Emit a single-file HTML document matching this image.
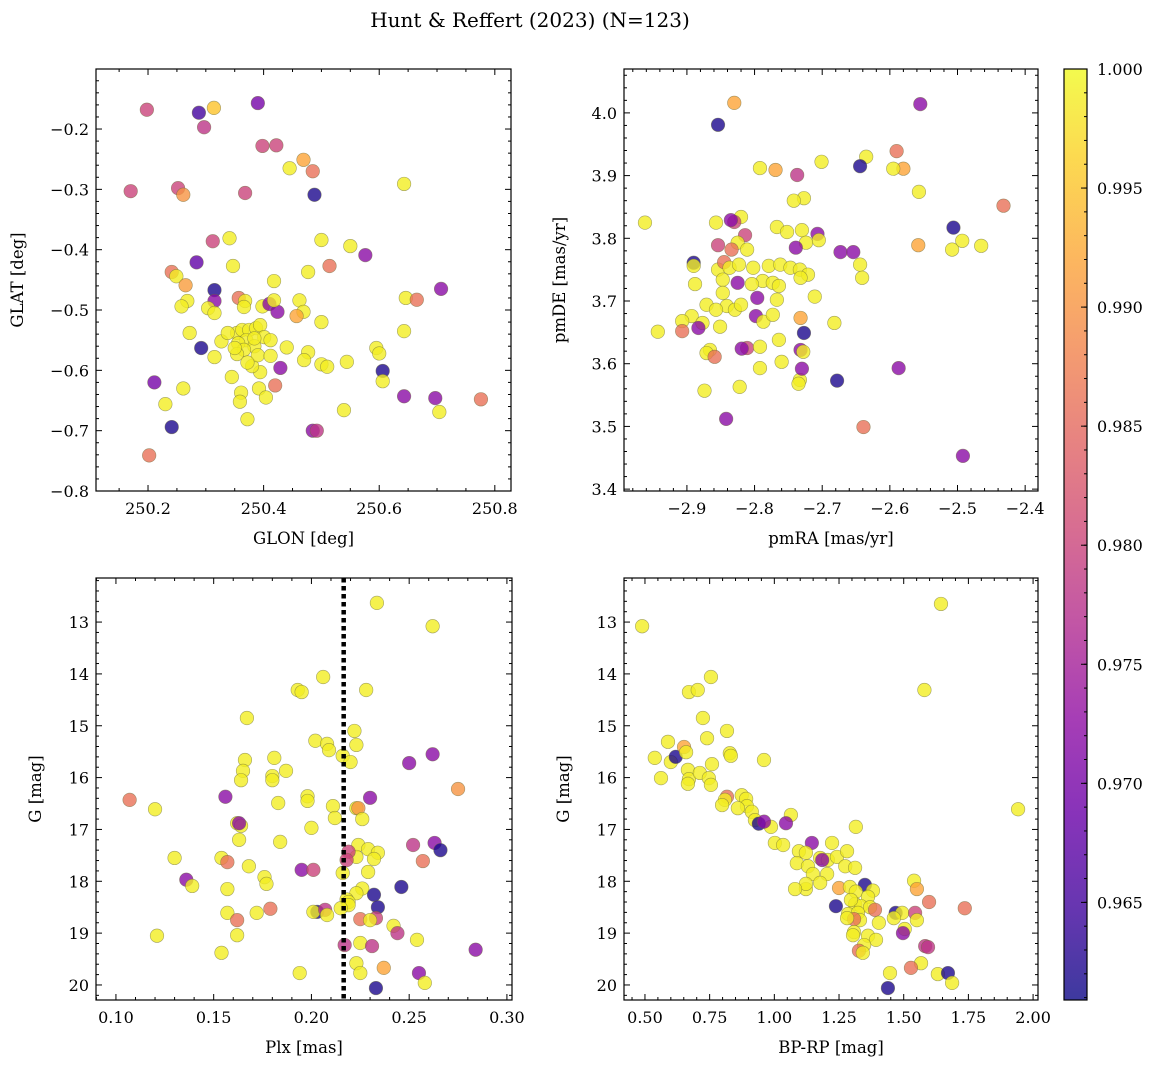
<!DOCTYPE html>
<html><head><meta charset="utf-8">
<style>
html,body{margin:0;padding:0;background:#fff;}
svg{display:block;font-family:"DejaVu Serif","Liberation Serif",serif;}
</style></head>
<body>
<svg id="fig" width="1161" height="1068" viewBox="0 0 1161 1068" xmlns="http://www.w3.org/2000/svg">
<defs>
<linearGradient id="plasma" x1="0" y1="1" x2="0" y2="0">
<stop offset="0" stop-color="#0d0887"/><stop offset="0.1" stop-color="#41049d"/><stop offset="0.2" stop-color="#6a00a8"/><stop offset="0.3" stop-color="#8f0da4"/><stop offset="0.4" stop-color="#b12a90"/><stop offset="0.5" stop-color="#cc4778"/><stop offset="0.6" stop-color="#e16462"/><stop offset="0.7" stop-color="#f2844b"/><stop offset="0.8" stop-color="#fca636"/><stop offset="0.9" stop-color="#fcce25"/><stop offset="1" stop-color="#f0f921"/>
</linearGradient>
</defs>
<text x="530" y="27" text-anchor="middle" font-size="20">Hunt &amp; Reffert (2023) (N=123)</text>
</svg>
<script>
// ---- Panel 1: GLON / GLAT ----
const p1_glon=[250.198,250.314,250.288,250.39,250.297,250.398,250.422,250.469,250.445,250.485,250.17,250.252,250.261,250.368,250.488,250.643,250.5,250.312,250.341,250.55,250.576,250.284,250.347,250.477,250.514,250.418,250.241,250.249,250.265,250.268,250.315,250.315,250.258,250.357,250.368,250.366,250.304,250.315,250.398,250.41,250.424,250.418,250.462,250.469,250.457,250.5,250.646,250.665,250.707,250.272,250.327,250.292,250.643,250.595,250.6,250.606,250.606,250.44,250.477,250.47,250.5,250.51,250.544,250.315,250.345,250.429,250.394,250.38,250.42,250.392,250.404,250.361,250.359,250.261,250.211,250.23,250.643,250.697,250.704,250.776,250.539,250.372,250.241,250.485,250.492,250.202,250.354,250.363,250.375,250.387,250.394,250.401,250.412,250.37,250.356,250.384,250.366,250.354,250.39,250.412,250.372,250.338,250.35,250.384];
const p1_glat=[-0.168,-0.165,-0.173,-0.157,-0.197,-0.228,-0.227,-0.251,-0.265,-0.27,-0.303,-0.298,-0.309,-0.306,-0.309,-0.291,-0.384,-0.386,-0.381,-0.394,-0.409,-0.421,-0.427,-0.437,-0.427,-0.452,-0.437,-0.444,-0.459,-0.485,-0.467,-0.485,-0.494,-0.48,-0.485,-0.495,-0.497,-0.505,-0.494,-0.49,-0.503,-0.484,-0.484,-0.503,-0.51,-0.52,-0.48,-0.483,-0.465,-0.538,-0.552,-0.563,-0.535,-0.563,-0.572,-0.601,-0.618,-0.562,-0.57,-0.583,-0.59,-0.594,-0.586,-0.578,-0.611,-0.596,-0.603,-0.593,-0.625,-0.63,-0.645,-0.637,-0.652,-0.63,-0.62,-0.656,-0.643,-0.646,-0.669,-0.648,-0.666,-0.681,-0.694,-0.7,-0.7,-0.741,-0.538,-0.533,-0.533,-0.53,-0.525,-0.545,-0.55,-0.55,-0.555,-0.56,-0.566,-0.573,-0.575,-0.576,-0.587,-0.538,-0.563,-0.547];
const p1_prob=[0.98,0.995,0.965,0.97,0.978,0.98,0.98,0.992,0.999,0.986,0.98,0.98,0.99,0.98,0.962,0.999,0.999,0.98,0.999,0.999,0.972,0.968,0.999,0.999,0.986,0.999,0.986,0.999,0.991,0.999,0.962,0.972,0.999,0.986,0.999,0.999,0.999,0.999,0.999,0.972,0.972,0.999,0.999,0.999,0.992,0.999,0.999,0.986,0.972,0.999,0.999,0.962,0.999,0.999,0.999,0.962,0.999,0.999,0.999,0.999,0.999,0.999,0.999,0.999,0.999,0.972,0.999,0.999,0.986,0.999,0.999,0.999,0.999,0.999,0.97,0.999,0.972,0.972,0.999,0.986,0.999,0.999,0.962,0.972,0.978,0.986,0.999,0.999,0.999,0.999,0.999,0.999,0.999,0.999,0.999,0.999,0.999,0.999,0.999,0.999,0.999,0.999,0.999,0.999];
// ---- Panel 2: pmRA / pmDE ----
const p2_pmra=[-2.830,-2.854,-2.555,-2.590,-2.580,-2.595,-2.635,-2.644,-2.701,-2.792,-2.769,-2.737,-2.557,-2.432,-2.727,-2.742,-2.465,-2.493,-2.506,-2.508,-2.558,-2.767,-2.82,-2.83,-2.835,-2.857,-2.752,-2.707,-2.705,-2.730,-2.962,-2.814,-2.825,-2.854,-2.834,-2.811,-2.724,-2.739,-2.673,-2.654,-2.644,-2.641,-2.890,-2.890,-2.854,-2.845,-2.837,-2.823,-2.802,-2.779,-2.762,-2.747,-2.733,-2.721,-2.732,-2.788,-2.773,-2.764,-2.804,-2.825,-2.847,-2.888,-2.847,-2.841,-2.871,-2.857,-2.829,-2.82,-2.796,-2.767,-2.711,-2.798,-2.787,-2.773,-2.732,-2.682,-2.893,-2.907,-2.877,-2.851,-2.883,-2.943,-2.907,-2.727,-2.764,-2.811,-2.792,-2.819,-2.866,-2.871,-2.859,-2.732,-2.728,-2.760,-2.792,-2.822,-2.733,-2.735,-2.730,-2.587,-2.678,-2.874,-2.842,-2.639,-2.492];
const p2_pmde=[4.016,3.981,4.014,3.939,3.911,3.911,3.93,3.915,3.922,3.912,3.909,3.901,3.874,3.852,3.864,3.86,3.788,3.796,3.817,3.782,3.789,3.818,3.834,3.826,3.829,3.825,3.81,3.807,3.797,3.813,3.825,3.805,3.793,3.789,3.782,3.782,3.793,3.785,3.778,3.778,3.758,3.737,3.761,3.756,3.75,3.762,3.753,3.758,3.753,3.756,3.758,3.753,3.75,3.742,3.737,3.732,3.729,3.724,3.727,3.729,3.734,3.727,3.713,3.692,3.694,3.686,3.686,3.694,3.705,3.702,3.707,3.676,3.667,3.678,3.673,3.665,3.676,3.668,3.665,3.659,3.657,3.651,3.652,3.649,3.638,3.625,3.627,3.624,3.622,3.617,3.611,3.622,3.619,3.603,3.593,3.563,3.574,3.568,3.592,3.593,3.573,3.557,3.512,3.499,3.453];
const p2_prob=[0.992,0.962,0.972,0.986,0.992,0.999,0.999,0.962,0.999,0.999,0.992,0.978,0.999,0.986,0.999,0.999,0.999,0.999,0.962,0.999,0.992,0.999,0.999,0.98,0.972,0.999,0.999,0.972,0.999,0.999,0.999,0.98,0.999,0.98,0.986,0.999,0.999,0.972,0.972,0.972,0.999,0.999,0.962,0.999,0.999,0.986,0.999,0.999,0.999,0.999,0.999,0.999,0.999,0.999,0.999,0.999,0.999,0.999,0.999,0.972,0.999,0.999,0.999,0.999,0.999,0.999,0.999,0.999,0.972,0.999,0.999,0.972,0.999,0.999,0.992,0.999,0.999,0.999,0.999,0.999,0.972,0.999,0.986,0.962,0.999,0.98,0.999,0.972,0.999,0.999,0.986,0.972,0.999,0.999,0.999,0.999,0.999,0.999,0.972,0.972,0.962,0.999,0.972,0.986,0.972];
// ---- Panel 3: Plx / G ----
const p3_plx=[0.2335,0.262,0.193,0.195,0.206,0.228,0.167,0.222,0.223,0.202,0.208,0.209,0.262,0.25,0.216,0.22,0.166,0.181,0.187,0.165,0.164,0.18,0.18,0.156,0.107,0.12,0.198,0.198,0.183,0.23,0.275,0.211,0.223,0.224,0.212,0.226,0.2,0.162,0.164,0.163,0.184,0.163,0.224,0.229,0.234,0.223,0.232,0.252,0.257,0.263,0.266,0.219,0.229,0.195,0.201,0.218,0.216,0.13,0.154,0.157,0.168,0.136,0.139,0.176,0.177,0.157,0.226,0.223,0.232,0.246,0.218,0.219,0.219,0.234,0.215,0.203,0.201,0.207,0.157,0.172,0.179,0.208,0.225,0.233,0.23,0.162,0.242,0.244,0.121,0.162,0.254,0.225,0.231,0.217,0.284,0.154,0.223,0.237,0.225,0.194,0.255,0.258,0.233];
const p3_g=[12.63,13.08,14.31,14.35,14.06,14.31,14.85,15.1,15.37,15.29,15.35,15.47,15.55,15.72,15.58,15.7,15.66,15.62,15.87,15.87,16.05,15.97,16.05,16.37,16.43,16.61,16.36,16.45,16.49,16.39,16.22,16.55,16.59,16.59,16.78,16.8,16.97,16.88,16.93,16.88,17.24,17.2,17.3,17.38,17.45,17.53,17.57,17.3,17.61,17.26,17.4,17.43,17.82,17.78,17.78,17.59,17.84,17.55,17.55,17.63,17.71,17.97,18.09,17.92,18.05,18.15,18.14,18.23,18.26,18.11,18.35,18.4,18.46,18.5,18.52,18.59,18.59,18.55,18.61,18.61,18.53,18.65,18.73,18.71,18.75,18.75,18.86,19.0,19.05,19.04,19.13,19.19,19.25,19.23,19.32,19.38,19.58,19.67,19.77,19.77,19.77,19.96,20.06];
const p3_prob=[0.999,0.999,0.999,0.999,0.999,0.999,0.999,0.999,0.999,0.999,0.999,0.999,0.972,0.972,0.999,0.999,0.999,0.999,0.999,0.999,0.999,0.999,0.999,0.972,0.986,0.999,0.999,0.999,0.999,0.972,0.99,0.999,0.999,0.99,0.999,0.999,0.999,0.999,0.999,0.972,0.999,0.999,0.999,0.999,0.999,0.999,0.999,0.978,0.986,0.972,0.962,0.98,0.999,0.972,0.98,0.98,0.999,0.999,0.999,0.986,0.999,0.972,0.999,0.999,0.999,0.999,0.999,0.999,0.962,0.962,0.999,0.999,0.999,0.962,0.999,0.962,0.999,0.978,0.999,0.999,0.986,0.999,0.986,0.98,0.999,0.986,0.999,0.978,0.999,0.999,0.999,0.999,0.978,0.978,0.972,0.999,0.999,0.992,0.999,0.999,0.972,0.999,0.962];
// ---- Panel 4: BP-RP / G ----
const p4_bprp=[0.489,1.644,1.580,1.942,0.755,0.670,0.704,0.724,0.740,0.817,0.589,0.538,0.600,0.619,0.651,0.659,0.828,0.832,0.666,0.670,0.712,0.759,0.747,0.960,0.562,0.666,0.755,0.817,0.809,0.798,0.874,0.891,0.894,0.859,0.913,0.925,0.987,1.064,1.045,1.315,0.940,0.960,1.002,1.034,1.095,1.145,1.223,1.122,1.177,1.207,1.242,1.087,1.130,1.185,1.274,1.312,1.281,1.149,1.204,1.177,1.122,1.122,1.080,1.250,1.350,1.381,1.292,1.315,1.362,1.312,1.335,1.370,1.389,1.540,1.551,1.598,1.736,1.238,1.296,1.285,1.323,1.331,1.308,1.281,1.308,1.404,1.469,1.494,1.544,1.551,1.462,1.504,1.497,1.304,1.362,1.393,1.347,1.583,1.594,1.327,1.342,1.567,1.528,1.447,1.632,1.671,1.687,1.439];
const p4_g=[13.08,12.65,14.31,16.61,14.06,14.35,14.31,14.85,15.24,15.1,15.31,15.62,15.7,15.6,15.41,15.51,15.53,15.58,15.85,16.03,15.91,15.74,16.01,15.66,16.01,16.12,16.14,16.37,16.43,16.53,16.34,16.41,16.55,16.59,16.66,16.82,16.95,16.72,16.88,16.95,16.89,16.85,17.26,17.3,17.42,17.26,17.26,17.45,17.55,17.59,17.53,17.65,17.71,17.59,17.71,17.74,17.42,17.86,17.86,18.03,18.15,18.05,18.15,18.13,18.07,18.18,18.11,18.2,18.3,18.44,18.48,18.5,18.55,17.99,18.15,18.4,18.52,18.48,18.36,18.63,18.61,18.75,18.73,18.71,18.98,18.8,18.61,18.61,18.61,18.75,18.71,18.92,19.0,19.04,19.05,19.13,19.23,19.25,19.27,19.34,19.38,19.58,19.67,19.77,19.79,19.77,19.96,20.06];
const p4_prob=[0.999,0.999,0.999,0.999,0.999,0.999,0.999,0.999,0.999,0.999,0.999,0.999,0.999,0.962,0.992,0.999,0.999,0.999,0.999,0.999,0.999,0.999,0.999,0.999,0.999,0.999,0.999,0.986,0.999,0.999,0.999,0.999,0.999,0.999,0.999,0.999,0.999,0.999,0.972,0.999,0.962,0.972,0.999,0.999,0.999,0.972,0.999,0.999,0.999,0.999,0.999,0.999,0.999,0.972,0.999,0.999,0.999,0.999,0.999,0.999,0.999,0.999,0.999,0.992,0.962,0.999,0.999,0.999,0.999,0.999,0.999,0.999,0.986,0.999,0.992,0.986,0.986,0.962,0.999,0.999,0.999,0.999,0.986,0.999,0.999,0.999,0.962,0.999,0.98,0.999,0.999,0.999,0.972,0.999,0.999,0.999,0.999,0.978,0.978,0.986,0.999,0.999,0.986,0.999,0.999,0.962,0.999,0.962];
const cbarTicks=[0.965,0.970,0.975,0.980,0.985,0.990,0.995,1.000];
const plxLimit=0.2165;
const vmin=0.9609, vmax=1.0;

const NS="http://www.w3.org/2000/svg";
const svg=document.getElementById('fig');
function mk(tag,attrs,parent){const e=document.createElementNS(NS,tag);for(const k in attrs)e.setAttribute(k,attrs[k]);(parent||svg).appendChild(e);return e;}
const stops=[[13,8,135],[65,4,157],[106,0,168],[143,13,164],[177,42,144],[204,71,120],[225,100,98],[242,132,75],[252,166,54],[252,206,37],[240,249,33]];
function cmap(v){let t=(v-vmin)/(vmax-vmin);t=Math.max(0,Math.min(1,t))*10;const i=Math.min(9,Math.floor(t)),f=t-i;const a=stops[i],b=stops[i+1];return 'rgb('+[0,1,2].map(k=>Math.round(a[k]+(b[k]-a[k])*f)).join(',')+')';}
function fmt(v,d){const s=Math.abs(v).toFixed(d);return (v<0&&parseFloat(s)!==0?'\u2212':'')+s;}

function panel(o){
  const g=mk('g',{});
  
  
  const sx=v=>o.L+(v-o.x0)/(o.x1-o.x0)*(o.R-o.L);
  const sy=v=>o.B-(v-o.y0)/(o.y1-o.y0)*(o.B-o.T);
  const pts=mk('g',{},g);
  
  
  for(let i=0;i<o.xs.length;i++){
    const c=mk('circle',{cx:sx(o.xs[i]),cy:sy(o.ys[i]),r:6.8,fill:cmap(o.ps[i]),'fill-opacity':0.8,stroke:'#6b6b3a','stroke-opacity':0.6,'stroke-width':0.6},pts);
    
    
  }
  if(o.vline!==undefined){
    const l=mk('line',{x1:sx(o.vline),x2:sx(o.vline),y1:o.T,y2:o.B,stroke:'#000','stroke-width':4.5,'stroke-dasharray':'4.5 3.5'},g);
    
    
  }
  mk('rect',{x:o.L,y:o.T,width:o.R-o.L,height:o.B-o.T,fill:'none',stroke:'#000','stroke-width':1.2},g);
  const ax=mk('g',{},g);
  
  
  const eps=1e-9;
  const xlo=Math.min(o.x0,o.x1),xhi=Math.max(o.x0,o.x1),ylo=Math.min(o.y0,o.y1),yhi=Math.max(o.y0,o.y1);
  const nx0=Math.ceil(xlo/o.xmin-1e-6),nx1=Math.floor(xhi/o.xmin+1e-6);
  for(let n=nx0;n<=nx1;n++){
    const v=n*o.xmin;
    const X=sx(v);const major=Math.abs(v/o.xmaj-Math.round(v/o.xmaj))<1e-4;const len=major?6:3;
    mk('line',{x1:X,x2:X,y1:o.B,y2:o.B-len,stroke:'#000','stroke-width':1},ax);
    mk('line',{x1:X,x2:X,y1:o.T,y2:o.T+len,stroke:'#000','stroke-width':1},ax);
    if(major){const t=mk('text',{x:X,y:o.B+23,'text-anchor':'middle','font-size':16},ax);t.textContent=fmt(v,o.xd);
      }
  }
  const ny0=Math.ceil(ylo/o.ymin-1e-6),ny1=Math.floor(yhi/o.ymin+1e-6);
  for(let n=ny0;n<=ny1;n++){
    const v=n*o.ymin;
    const Y=sy(v);const major=Math.abs(v/o.ymaj-Math.round(v/o.ymaj))<1e-4;const len=major?6:3;
    mk('line',{x1:o.L,x2:o.L+len,y1:Y,y2:Y,stroke:'#000','stroke-width':1},ax);
    mk('line',{x1:o.R,x2:o.R-len,y1:Y,y2:Y,stroke:'#000','stroke-width':1},ax);
    if(major){const t=mk('text',{x:o.L-7,y:Y+6,'text-anchor':'end','font-size':16},ax);t.textContent=fmt(v,o.yd);
      }
  }
  const xt=mk('text',{x:(o.L+o.R)/2,y:o.B+53,'text-anchor':'middle','font-size':16.5},g);xt.textContent=o.xlabel;
  
  const yx=o.L-o.yoff;const yc=(o.T+o.B)/2;
  const yt=mk('text',{x:yx,y:yc,'text-anchor':'middle','font-size':16.5,transform:'rotate(-90 '+yx+' '+yc+')'},g);yt.textContent=o.ylabel;
  
}
panel({name:'glon-glat-panel',L:96,R:511,T:69,B:491,x0:250.110,x1:250.828,y0:-0.8,y1:-0.1005,xmaj:0.2,xmin:0.05,ymaj:0.1,ymin:0.02,xd:1,yd:1,xs:p1_glon,ys:p1_glat,ps:p1_prob,xlabel:'GLON [deg]',ylabel:'GLAT [deg]',yoff:73});
panel({name:'pm-panel',L:624,R:1038,T:69,B:491,x0:-2.993,x1:-2.381,y0:3.397,y1:4.07,xmaj:0.1,xmin:0.02,ymaj:0.1,ymin:0.02,xd:1,yd:1,xs:p2_pmra,ys:p2_pmde,ps:p2_prob,xlabel:'pmRA [mas/yr]',ylabel:'pmDE [mas/yr]',yoff:59});
panel({name:'plx-g-panel',L:96,R:512,T:578,B:1000,x0:0.0898,x1:0.3026,y0:20.29,y1:12.15,xmaj:0.05,xmin:0.01,ymaj:1,ymin:0.2,xd:2,yd:0,xs:p3_plx,ys:p3_g,ps:p3_prob,vline:plxLimit,xlabel:'Plx [mas]',ylabel:'G [mag]',yoff:55});
panel({name:'cmd-panel',L:624,R:1038,T:578,B:1000,x0:0.419,x1:2.019,y0:20.29,y1:12.15,xmaj:0.25,xmin:0.05,ymaj:1,ymin:0.2,xd:2,yd:0,xs:p4_bprp,ys:p4_g,ps:p4_prob,xlabel:'BP-RP [mag]',ylabel:'G [mag]',yoff:55});
// colorbar
(function(){
  const L=1064,R=1087,T=69,B=1000;
  const g=mk('g',{});
  
  
  mk('rect',{x:L,y:T,width:R-L,height:B-T,fill:'url(#plasma)','fill-opacity':0.8},g);
  mk('rect',{x:L,y:T,width:R-L,height:B-T,fill:'none',stroke:'#000','stroke-width':1.2},g);
  const sy=v=>B-(v-vmin)/(vmax-vmin)*(B-T);
  for(let n=961;n<=1000;n++){const Y=sy(n/1000);mk('line',{x1:R,x2:R-3,y1:Y,y2:Y,stroke:'#000'},g);}
  cbarTicks.forEach(v=>{const Y=sy(v);mk('line',{x1:R,x2:R-6,y1:Y,y2:Y,stroke:'#000'},g);
    const t=mk('text',{x:R+10,y:Y+6,'font-size':16},g);t.textContent=v.toFixed(3);
    });
})();
</script>
</body></html>
